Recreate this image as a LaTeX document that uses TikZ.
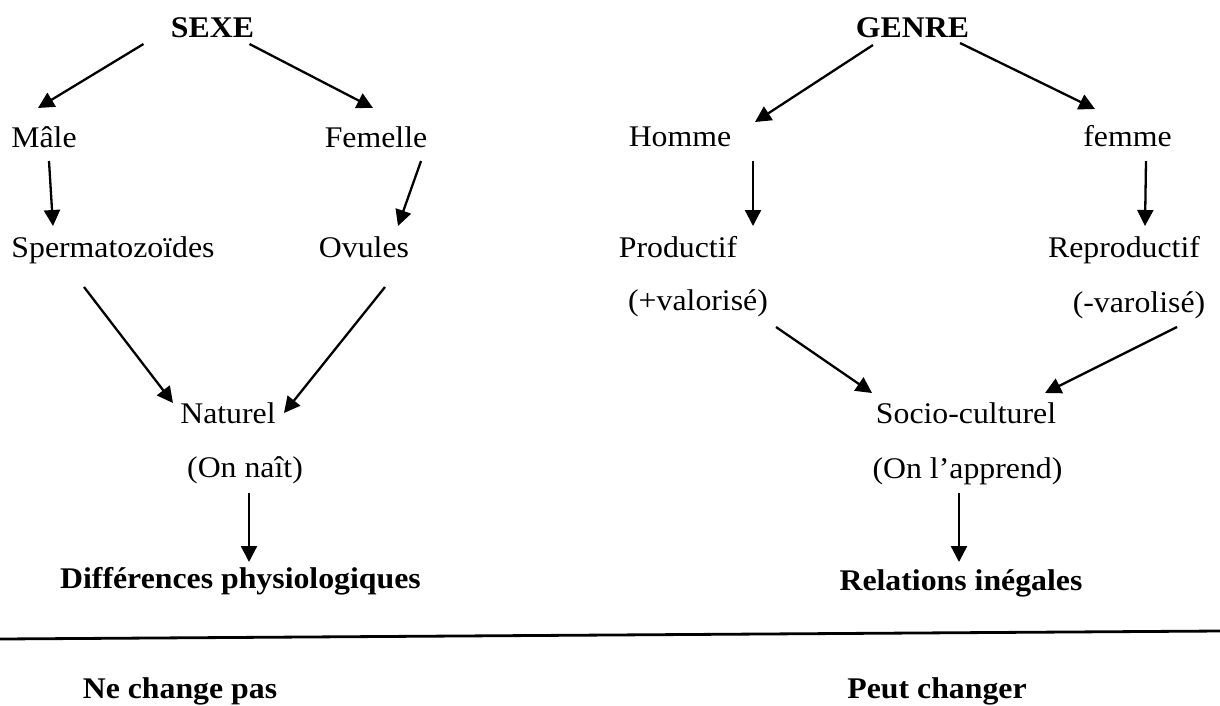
\documentclass[tikz,border=0pt]{standalone}
\usepackage{fontspec}
\setmainfont{Liberation Serif}[FakeStretch=1.06]
\usetikzlibrary{arrows.meta,calc}
\tikzset{
  lbl/.style={inner sep=0pt, anchor=base, font=\fontsize{30}{36}\selectfont},
  lblb/.style={inner sep=0pt, anchor=base, font=\fontsize{30}{36}\selectfont\bfseries},
  arr/.style={-{Triangle[length=16pt,width=16pt]}, line width=2.3pt},
  rule/.style={line width=2.8pt}
}
\begin{document}
\begin{tikzpicture}[x=1pt,y=-1pt]
\useasboundingbox[fill=white] (0,0) rectangle (1220,705);
% left column
\node[lblb] (sexe) at (212.5,37) {SEXE};
\node[lbl] (male) at (44,147) {Mâle};
\node[lbl] (femelle) at (376,147) {Femelle};
\node[lbl] (sperm) at (113,257) {Spermatozoïdes};
\node[lbl] (ovules) at (364,257) {Ovules};
\node[lbl] (naturel) at (228,423) {Naturel};
\node[lbl] (naissance) at (245,477) {(On naît)};
\node[lblb] (diff) at (240.5,588) {Différences physiologiques};
% right column
\node[lblb] (genre) at (912.5,37) {GENRE};
\node[lbl] (homme) at (680,146) {Homme};
\node[lbl] (femme) at (1127.5,146) {femme};
\node[lbl] (productif) at (678,257) {Productif};
\node[lbl] (reproductif) at (1124,257) {Reproductif};
\node[lbl] (valorise) at (698,310) {(+valorisé)};
\node[lbl] (varolise) at (1139,312) {(-varolisé)};
\node[lbl] (socio) at (966,423) {Socio-culturel};
\node[lbl] (apprend) at (967.5,478) {(On l’apprend)};
\node[lblb] (relations) at (961,590) {Relations inégales};
% bottom
\coordinate (lineL) at (0,639);
\coordinate (lineR) at (1220,631);
\draw[rule] (lineL) -- (lineR);
\node[lblb] (nechange) at (180,698) {Ne change pas};
\node[lblb] (peutchanger) at (937,698) {Peut changer};
% arrows left
\draw[arr] ($(sexe.base)+(-69,7)$) -- ($(male.base)+(-6,-39)$);
\draw[arr] ($(sexe.base)+(37,7)$) -- ($(femelle.base)+(-3,-39)$);
\draw[arr] ($(male.base)+(5,14)$) -- ($(sperm.base)+(-60,-31)$);
\draw[arr] ($(femelle.base)+(45,14)$) -- ($(ovules.base)+(34,-31)$);
\draw[arr] ($(sperm.base)+(-29,30)$) -- ($(naturel.base)+(-55,-20)$);
\draw[arr] ($(ovules.base)+(21,30)$) -- ($(naturel.base)+(56,-10)$);
\draw[arr] ($(naissance.base)+(4,16)$) -- ($(diff.base)+(8.5,-26)$);
% arrows right
\draw[arr] ($(genre.base)+(-39.5,8)$) -- ($(homme.base)+(75,-24)$);
\draw[arr] ($(genre.base)+(47.5,6)$) -- ($(femme.base)+(-32.5,-37)$);
\draw[arr] ($(homme.base)+(73,15)$) -- ($(productif.base)+(75,-31)$);
\draw[arr] ($(femme.base)+(18.5,15)$) -- ($(reproductif.base)+(21,-31)$);
\draw[arr] ($(valorise.base)+(78,17)$) -- ($(socio.base)+(-94,-30)$);
\draw[arr] ($(varolise.base)+(38,15)$) -- ($(socio.base)+(79,-30)$);
\draw[arr] ($(apprend.base)+(-8.5,15)$) -- ($(relations.base)+(-2,-28)$);
\end{tikzpicture}
\end{document}
